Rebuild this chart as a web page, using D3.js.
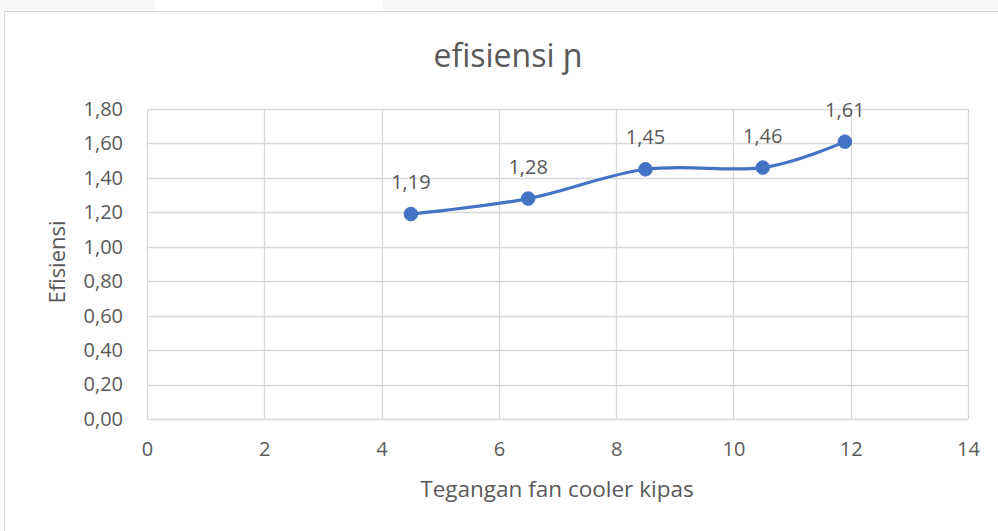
<!DOCTYPE html>
<html>
<head>
<meta charset="utf-8">
<script src="https://cdn.jsdelivr.net/npm/d3@7"></script>
<style>
  html, body { margin: 0; padding: 0; background: #ffffff; }
  svg { display: block; }
  text { font-family: "Open Sans", "Noto Sans", sans-serif; fill: #595959; }
</style>
</head>
<body>
<svg id="chart" width="998" height="531"></svg>
<script>
// Fan cooler voltage against efficiency
const voltage = [4.5, 6.5, 8.5, 10.5, 11.9];
const efficiency = [1.19, 1.28, 1.45, 1.46, 1.61];
const xTicks = [0, 2, 4, 6, 8, 10, 12, 14];
const yTicks = [0, 0.2, 0.4, 0.6, 0.8, 1.0, 1.2, 1.4, 1.6, 1.8];
const titleText = "efisiensi ɲ";
const xTitle = "Tegangan fan cooler kipas";
const yTitle = "Efisiensi";

const svg = d3.select("#chart");
const W = 998, H = 531;

// window strip above the chart frame
svg.append("rect").attr("x", 0).attr("y", 0).attr("width", W).attr("height", 11).attr("fill", "#f8f8f8");
svg.append("rect").attr("x", 155).attr("y", 0).attr("width", 228).attr("height", 11).attr("fill", "#ffffff");

// chart frame
svg.append("rect").attr("x", 4.5).attr("y", 11.5).attr("width", W + 10).attr("height", H + 10)
  .attr("fill", "#ffffff").attr("stroke", "#d9d9d9").attr("stroke-width", 1);

const plot = { left: 147, right: 968, top: 109, bottom: 419 };
const fmt = v => d3.format(".2f")(v).replace(".", ",");

const x = d3.scaleLinear().domain([0, 14]).range([plot.left, plot.right]);
const y = d3.scaleLinear().domain([0, 1.8]).range([plot.bottom, plot.top]);

// gridlines
const grid = svg.append("g").attr("stroke", "#d9d9d9").attr("stroke-width", 1.3);
grid.selectAll("line.h").data(yTicks).join("line")
  .attr("x1", plot.left).attr("x2", plot.right)
  .attr("y1", d => Math.round(y(d)) + 0.5).attr("y2", d => Math.round(y(d)) + 0.5);
grid.selectAll("line.v").data(xTicks).join("line")
  .attr("y1", plot.top).attr("y2", plot.bottom)
  .attr("x1", d => Math.round(x(d)) + 0.5).attr("x2", d => Math.round(x(d)) + 0.5);

// axes (labels only)
const xAxis = svg.append("g").attr("transform", `translate(0,${plot.bottom})`)
  .call(d3.axisBottom(x).tickValues(xTicks).tickSize(0).tickPadding(23).tickFormat(d3.format("d")));
const yAxis = svg.append("g").attr("transform", `translate(${plot.left},0)`)
  .call(d3.axisLeft(y).tickValues(yTicks).tickSize(0).tickPadding(24).tickFormat(fmt));
[xAxis, yAxis].forEach(a => {
  a.select(".domain").remove();
  a.selectAll("text").attr("font-size", 20).attr("fill", "#595959")
    .attr("font-family", "'Open Sans', 'Noto Sans', sans-serif");
});

// smoothed series line
const pts = voltage.map((v, i) => [v, efficiency[i]]);
svg.append("path").datum(pts)
  .attr("fill", "none").attr("stroke", "#4472c4").attr("stroke-width", 3.2).attr("stroke-linecap", "round")
  .attr("d", d3.line().x(d => x(d[0])).y(d => y(d[1])).curve(d3.curveCatmullRom.alpha(0)));

svg.append("g").selectAll("circle").data(pts).join("circle")
  .attr("cx", d => x(d[0])).attr("cy", d => y(d[1])).attr("r", 6.8)
  .attr("fill", "#4472c4").attr("stroke", "#4472c4").attr("stroke-width", 1);

// value labels
svg.append("g").selectAll("text").data(pts).join("text")
  .attr("x", d => x(d[0])).attr("y", d => y(d[1]) - 25)
  .attr("text-anchor", "middle").attr("font-size", 20)
  .text(d => fmt(d[1]));

// titles
svg.append("text").attr("x", 508).attr("y", 67).attr("text-anchor", "middle")
  .attr("font-size", 32).text(titleText);
svg.append("text").attr("x", 557).attr("y", 497).attr("text-anchor", "middle")
  .attr("font-size", 22.5).text(xTitle);
svg.append("text").attr("transform", `translate(65,262) rotate(-90)`).attr("text-anchor", "middle")
  .attr("font-size", 22).text(yTitle);
</script>
</body>
</html>
